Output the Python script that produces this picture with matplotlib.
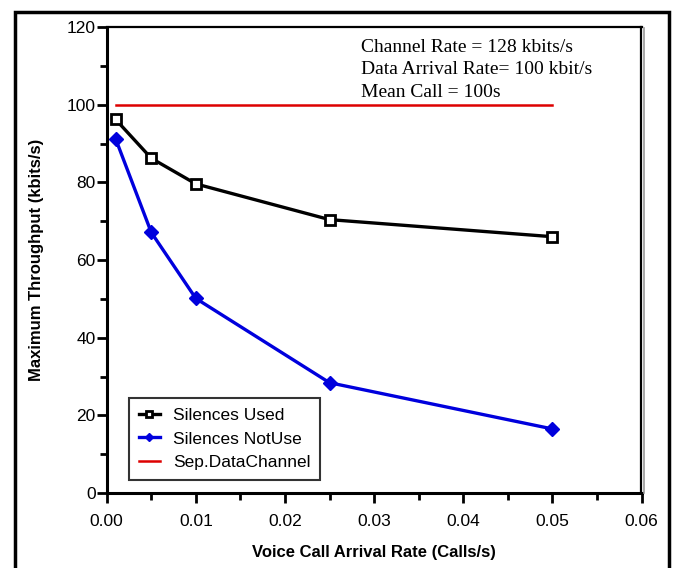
import matplotlib
matplotlib.use("Agg")
import matplotlib.pyplot as plt
from matplotlib.lines import Line2D
from matplotlib.patches import Rectangle

plt.rcParams['font.family'] = ['Liberation Sans', 'DejaVu Sans']

arrival_rate = [0.001, 0.005, 0.01, 0.025, 0.05]
silences_used = [96.2, 86.2, 79.6, 70.4, 66.0]
silences_notuse = [91.2, 67.1, 50.1, 28.4, 16.5]
sep_rate = [0.001, 0.05]
sep_channel = [100, 100]
annotation = ["Channel Rate = 128 kbits/s", "Data Arrival Rate= 100 kbit/s", "Mean Call = 100s"]

fig = plt.figure(figsize=(6.74, 5.68), dpi=100)
W, H = 674, 568
ax = fig.add_axes([106.7 / W, 1 - 493 / H, (641.5 - 106.7) / W, (493 - 27) / H])

ax.plot(sep_rate, sep_channel, color='#dd0000', lw=1.8, label='Sep.DataChannel', zorder=2)
ax.plot(arrival_rate, silences_used, color='black', lw=2.4, marker='s', ms=7,
        mfc='white', mec='black', mew=2, label='Silences Used', zorder=3)
ax.plot(arrival_rate, silences_notuse, color='#0000dd', lw=2.4, marker='D', ms=7,
        mfc='#0000dd', mec='#0000dd', label='Silences NotUse', zorder=3)

ax.set_xlim(0, 0.06)
ax.set_ylim(0, 120)
ax.set_xticks([0, 0.01, 0.02, 0.03, 0.04, 0.05, 0.06])
ax.set_xticklabels(['0.00', '0.01', '0.02', '0.03', '0.04', '0.05', '0.06'])
ax.set_xticks([0.005, 0.015, 0.025, 0.035, 0.045, 0.055], minor=True)
ax.set_yticks([0, 20, 40, 60, 80, 100, 120])
ax.set_yticks([10, 30, 50, 70, 90, 110], minor=True)
ax.tick_params(which='major', direction='out', length=7, width=2, labelsize=12.5, pad=1, colors='black')
ax.tick_params(which='minor', direction='out', length=5, width=2)
ax.tick_params(axis='x', pad=8)

for s in ['left', 'bottom']:
    ax.spines[s].set_linewidth(2.2)
for s in ['top', 'right']:
    ax.spines[s].set_linewidth(1.6)

ax.set_xlabel('Voice Call Arrival Rate (Calls/s)', fontsize=12, fontweight='bold', labelpad=12)
ax.set_ylabel('Maximum Throughput (kbits/s)', fontsize=12, fontweight='bold', labelpad=16)

# gray shadow on right spine
fig.add_artist(Line2D([643.5 / W, 643.5 / W], [1 - 493 / H, 1 - 28 / H], color='#999999', lw=1.2))

for i, t in enumerate(annotation):
    ax.text(0.0285, 114.8 - i * 5.8, t, fontsize=14, family='Liberation Serif', va='center', ha='left')

h, l = ax.get_legend_handles_labels()
order = [1, 2, 0]
leg = ax.legend([h[i] for i in order], [l[i] for i in order], loc='lower left',
                bbox_to_anchor=(0.042, 0.028), borderaxespad=0, fontsize=12.5, frameon=True,
                fancybox=False, handlelength=1.2, handletextpad=0.8, borderpad=0.55,
                labelspacing=0.5, markerscale=0.6)
leg.get_frame().set_edgecolor('black')
leg.get_frame().set_linewidth(1.5)

# outer frame
fig.add_artist(Rectangle((15 / W, -0.05), (669 - 15) / W, (1 - 12 / H) + 0.05,
                         fill=False, edgecolor='black', lw=2.5, transform=fig.transFigure))

fig.savefig('out.png', dpi=100)
